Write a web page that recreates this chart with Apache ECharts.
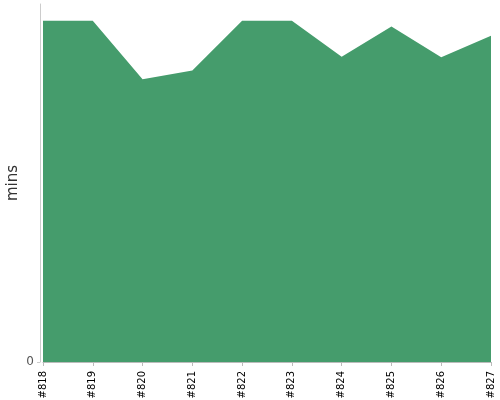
<!DOCTYPE html>
<html>
<head>
<meta charset="utf-8">
<script src="https://cdn.jsdelivr.net/npm/echarts@6/dist/echarts.min.js"></script>
<style>html,body{margin:0;padding:0;background:#fff}#c{width:500px;height:400px}</style>
</head>
<body>
<div id="c"></div>
<script>
var categories = ['#818','#819','#820','#821','#822','#823','#824','#825','#826','#827'];
var durations = [95.3, 95.3, 79.0, 81.4, 95.3, 95.3, 85.3, 93.7, 85.1, 91.1];
var yTicks = [0];

var chart = echarts.init(document.getElementById('c'));
chart.setOption({
  animation: false,
  grid: {left: 43, right: 9, top: 4, bottom: 38, outerBoundsMode: 'none', containLabel: false},
  xAxis: {
    type: 'category',
    data: categories,
    boundaryGap: false,
    offset: 3,
    axisLine: {lineStyle: {color: '#bbb'}},
    axisTick: {show: true, length: 4, lineStyle: {color: '#bbb'}, alignWithLabel: true},
    axisLabel: {rotate: 90, fontSize: 10, color: '#000', fontFamily: 'DejaVu Sans', margin: 6, interval: 0}
  },
  yAxis: {
    type: 'value',
    min: 0,
    max: 100,
    offset: 3,
    name: 'mins',
    nameLocation: 'middle',
    nameGap: 19,
    nameMoveOverlap: false,
    nameTextStyle: {fontSize: 15, color: '#333', fontFamily: 'DejaVu Sans'},
    axisLine: {show: true, lineStyle: {color: '#ccc'}},
    axisTick: {show: true, length: 3, customValues: yTicks, lineStyle: {color: '#ccc'}},
    axisLabel: {customValues: yTicks, fontSize: 12, color: '#555', fontFamily: 'DejaVu Sans', margin: 6},
    splitLine: {show: false}
  },
  series: [{
    type: 'line',
    data: durations,
    symbol: 'none',
    lineStyle: {width: 0},
    areaStyle: {color: '#459c6c', opacity: 1},
    itemStyle: {color: '#459c6c'}
  }]
});
</script>
</body>
</html>
